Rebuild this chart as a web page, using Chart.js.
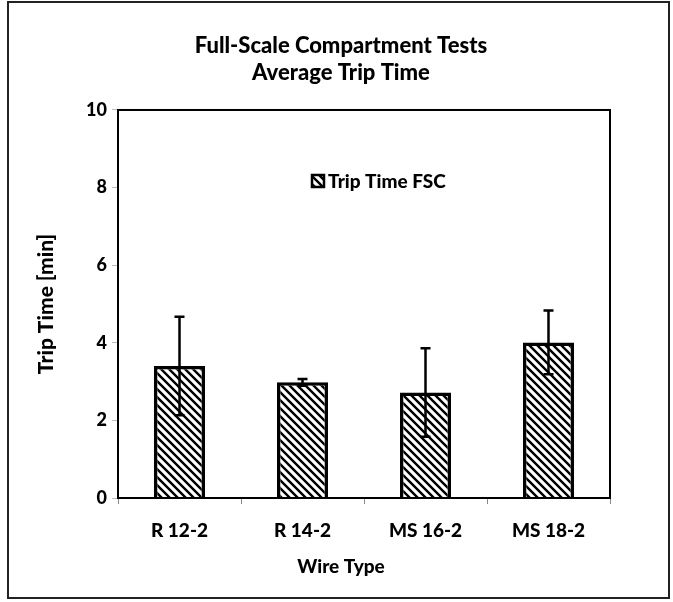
<!DOCTYPE html>
<html>
<head>
<meta charset="utf-8">
<script src="https://cdn.jsdelivr.net/npm/chart.js@4"></script>
<style>
  html, body { margin: 0; padding: 0; background: #fff; }
  #wrap { width: 673px; height: 602px; position: relative; }
</style>
</head>
<body>
<div id="wrap"><canvas id="c" width="673" height="602"></canvas></div>
<script>
// ---- data ----
const categories = ['R 12-2', 'R 14-2', 'MS 16-2', 'MS 18-2'];
const tripTime = [3.40, 2.98, 2.72, 4.01];
const tripTimeErr = [1.27, 0.09, 1.14, 0.82];
const seriesLabel = 'Trip Time FSC';
const titleLines = ['Full-Scale Compartment Tests', 'Average Trip Time'];
const xTitle = 'Wire Type';
const yTitle = 'Trip Time [min]';
const yMin = 0, yMax = 10, yStep = 2;

const FONT = 'Lato, "Liberation Sans", sans-serif';
const W = 900;

function makeHatch() {
  const s = 8;
  const p = document.createElement('canvas');
  p.width = s; p.height = s;
  const g = p.getContext('2d');
  g.fillStyle = '#fff';
  g.fillRect(0, 0, s, s);
  g.strokeStyle = '#000';
  g.lineWidth = 2.4;
  g.beginPath();
  g.moveTo(-2, -2); g.lineTo(s + 2, s + 2);
  g.moveTo(-2 - s, -2); g.lineTo(2, s + 2);
  g.moveTo(s - 2, -2); g.lineTo(2 * s + 2, s + 2);
  g.stroke();
  return document.getElementById('c').getContext('2d').createPattern(p, 'repeat');
}
const hatch = makeHatch();

const framePlugin = {
  id: 'frame',
  beforeDraw(chart) {
    const ctx = chart.ctx;
    ctx.save();
    ctx.fillStyle = '#fff';
    ctx.fillRect(0, 0, chart.width, chart.height);
    ctx.restore();
  },
  afterDraw(chart) {
    const ctx = chart.ctx;
    const a = chart.chartArea;
    ctx.save();
    ctx.strokeStyle = '#222';
    ctx.lineWidth = 2;
    ctx.strokeRect(8, 2, 661, 596);
    ctx.strokeStyle = '#000';
    ctx.lineWidth = 2;
    ctx.strokeRect(a.left, a.top, a.right - a.left, a.bottom - a.top);
    // x-axis title, centred under the chart title like the original
    const tb = chart.titleBlock;
    const cx = (tb.left + tb.right) / 2;
    ctx.fillStyle = '#000';
    ctx.font = W + ' 19px ' + FONT;
    ctx.textAlign = 'center';
    ctx.textBaseline = 'middle';
    ctx.fillText(xTitle, cx, 567);
    ctx.restore();
  }
};

const errorBarPlugin = {
  id: 'errorBars',
  afterDatasetsDraw(chart) {
    const ctx = chart.ctx;
    const y = chart.scales.y;
    const meta = chart.getDatasetMeta(0);
    ctx.save();
    ctx.strokeStyle = '#000';
    ctx.lineWidth = 2.5;
    meta.data.forEach((bar, i) => {
      const v = tripTime[i], e = tripTimeErr[i];
      const yt = y.getPixelForValue(v + e);
      const yb = y.getPixelForValue(v - e);
      const x = bar.x;
      ctx.beginPath();
      ctx.moveTo(x, yt); ctx.lineTo(x, yb);
      ctx.moveTo(x - 5, yt); ctx.lineTo(x + 5, yt);
      ctx.moveTo(x - 5, yb); ctx.lineTo(x + 5, yb);
      ctx.stroke();
    });
    ctx.restore();
  }
};

const legendPlugin = {
  id: 'innerLegend',
  afterDraw(chart) {
    const ctx = chart.ctx;
    const a = chart.chartArea;
    const bx = a.left + 194, by = a.top + 65;
    ctx.save();
    ctx.fillStyle = hatch;
    ctx.fillRect(bx, by, 12, 12);
    ctx.strokeStyle = '#000';
    ctx.lineWidth = 2.5;
    ctx.strokeRect(bx, by, 12, 12);
    ctx.fillStyle = '#000';
    ctx.font = W + ' 19px ' + FONT;
    ctx.textBaseline = 'middle';
    ctx.textAlign = 'left';
    ctx.fillText(chart.data.datasets[0].label, bx + 16, by + 6.5);
    ctx.restore();
  }
};

new Chart(document.getElementById('c'), {
  type: 'bar',
  data: {
    labels: categories,
    datasets: [{
      label: seriesLabel,
      data: tripTime,
      backgroundColor: hatch,
      borderColor: '#000',
      borderWidth: 3.5,
      borderSkipped: 'start',
      barPercentage: 0.415,
      categoryPercentage: 1.0
    }]
  },
  options: {
    responsive: false,
    animation: false,
    devicePixelRatio: 1,
    layout: { padding: { left: 72, right: 63, top: 0, bottom: 0 } },
    plugins: {
      legend: { display: false },
      tooltip: { enabled: false },
      title: {
        display: true,
        text: titleLines,
        color: '#000',
        font: { family: FONT, size: 22, weight: W, lineHeight: 1.227 },
        padding: { top: 32.5, bottom: 23.5 }
      }
    },
    scales: {
      x: {
        afterFit(s) { s.height = 104; },
        grid: { display: true, drawOnChartArea: false, drawTicks: true, tickLength: 6, color: '#888', offset: true },
        border: { display: true, color: '#000', width: 2 },
        ticks: { color: '#000', padding: 15, font: { family: FONT, size: 19, weight: W } },
        title: { display: false }
      },
      y: {
        min: yMin, max: yMax,
        afterFit(s) { s.width = 46; },
        grid: { display: true, drawOnChartArea: false, drawTicks: true, tickLength: 6, color: '#bbb' },
        border: { display: true, color: '#000', width: 2 },
        ticks: { stepSize: yStep, color: '#000', padding: 5, font: { family: FONT, size: 18, weight: W } },
        title: {
          display: true, text: yTitle, color: '#000',
          font: { family: FONT, size: 21, weight: W, lineHeight: 1.2 },
          padding: { top: -38.6, bottom: 0 }
        }
      }
    }
  },
  plugins: [framePlugin, errorBarPlugin, legendPlugin]
});
</script>
</body>
</html>
